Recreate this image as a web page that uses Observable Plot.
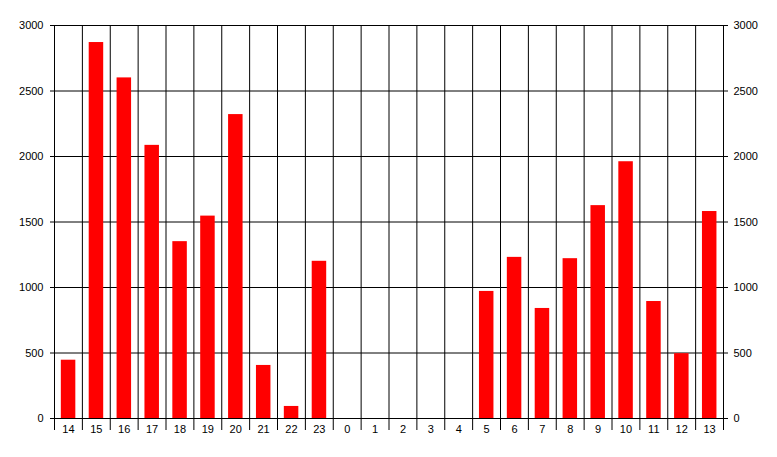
<!DOCTYPE html>
<html>
<head>
<meta charset="utf-8">
<script src="https://cdn.jsdelivr.net/npm/d3@7"></script>
<script src="https://cdn.jsdelivr.net/npm/@observablehq/plot@0.6"></script>
<style>
  html, body { margin: 0; padding: 0; background: #fff; }
  svg { display: block; }
</style>
</head>
<body>
<div id="chart"></div>
<script>
const hours = ["14","15","16","17","18","19","20","21","22","23","0","1","2","3","4","5","6","7","8","9","10","11","12","13"];
const values = [445, 2870, 2600, 2085, 1350, 1545, 2320, 405, 92, 1200, 0, 0, 0, 0, 0, 970, 1230, 840, 1220, 1625, 1960, 893, 495, 1580];
const yTicks = [0, 500, 1000, 1500, 2000, 2500, 3000];

const boundaries = d3.range(hours.length + 1);
const rows = hours.map((h, i) => ({hour: h, index: i, value: values[i]}));

const chart = Plot.plot({
  width: 777,
  height: 457,
  marginTop: 25,
  marginBottom: 39,
  marginLeft: 54,
  marginRight: 54,
  style: {fontFamily: "'Liberation Sans', Arial, sans-serif", fontSize: "11px", color: "black", background: "white"},
  x: {type: "linear", domain: [0, hours.length], axis: null},
  y: {domain: [0, 3000], axis: null},
  marks: [
    Plot.gridY(yTicks, {stroke: "black", strokeOpacity: 1}),
    Plot.gridX(boundaries, {stroke: "black", strokeOpacity: 1}),
    Plot.rect(rows, {
      x1: d => d.index + 0.245,
      x2: d => d.index + 0.765,
      y1: 0,
      y2: d => d.value,
      fill: "#ff0000"
    }),
    Plot.axisY(yTicks, {anchor: "left", tickSize: 4, tickPadding: 7, tickFormat: d => String(d), stroke: "black", fill: "black"}),
    Plot.axisY(yTicks, {anchor: "right", tickSize: 4, tickPadding: 6, tickFormat: d => String(d), stroke: "black", fill: "black"}),
    Plot.axisX(boundaries, {anchor: "bottom", tickSize: 12, tickFormat: () => "", stroke: "black"}),
    Plot.text(rows, {x: d => d.index + 0.5, text: "hour", frameAnchor: "bottom", dy: 14, fill: "black"})
  ]
});
document.getElementById("chart").appendChild(chart);
</script>
</body>
</html>
